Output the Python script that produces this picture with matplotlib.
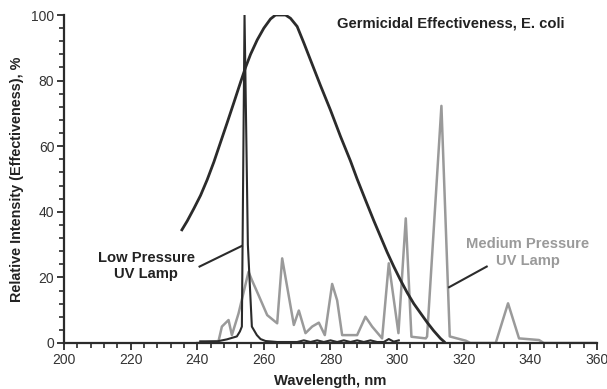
import matplotlib.pyplot as plt
from matplotlib.ticker import MultipleLocator

plt.rcParams['font.family'] = ['Liberation Sans', 'DejaVu Sans']

# germicidal effectiveness curve (E. coli)
germ_x = [235.4, 237, 239, 241, 243, 245, 247, 249, 251, 253, 254.5, 256, 258, 260, 262, 263.5,
          266.5, 268, 270, 272, 274, 277, 280, 283, 286, 288, 290.5, 293, 295, 297, 299, 301, 303,
          305, 307.1, 309, 311, 313, 314.1]
germ_y = [34.5, 37.2, 41, 45, 49.8, 55.2, 61.2, 67.2, 73.3, 79.5, 84, 88, 92.4, 96, 98.8, 100,
          100, 99, 96.5, 91.5, 86.3, 78.5, 71, 63, 55.5, 50, 43.6, 37.3, 32.5, 27.7, 23.3, 19.2, 15.4,
          12, 9, 6.3, 3.7, 1.4, 0.4]

# low pressure UV lamp spectrum
lp_x = [240.9, 246, 248.9, 251.9, 252.8, 253.4, 254.2, 255.2, 256.4, 257.9, 259, 260.5, 264, 270,
        272, 274, 276, 278, 280, 282, 284, 286, 288, 290, 292, 294, 296, 297.5, 299, 300.5]
lp_y = [0.5, 0.5, 1.1, 2, 3.5, 5, 100, 30, 5, 2.4, 1.2, 0.6, 0.3, 0.3,
        0.8, 0.3, 0.8, 0.3, 0.8, 0.3, 0.8, 0.3, 0.8, 0.3, 0.8, 0.3, 0.3, 1.2, 0.4, 0.8]

# medium pressure UV lamp spectrum
mp_x = [240, 246.4, 247.4, 249.4, 250.4, 252.4, 255.4, 256.4, 258.4, 261, 264, 265.5, 269, 270.5,
        272.5, 274.5, 276.5, 278.3, 280.5, 282, 283.5, 288, 290.5, 292.5, 295.5, 297.5, 300.4,
        302.6, 304.3, 308.6, 309, 313.3, 315.8, 317.6, 320.6, 322, 329.6, 333.3, 336.6, 342.6,
        344, 360]
mp_y = [0, 0.6, 5, 7, 2.4, 9, 21.7, 19.2, 14.6, 8.5, 6, 25.8, 5.5, 9.9,
        3, 5, 6.2, 2.4, 18, 13, 2.4, 2.4, 8, 5, 1.4, 24.3, 3,
        38, 1.9, 1.4, 2, 72.3, 2, 1.5, 0.7, 0, 0, 12.1, 1.4, 0.9,
        0, 0]

dark = '#2b2b2b'
grey = '#9a9a9a'

fig = plt.figure(figsize=(6.07, 3.89), dpi=100)
ax = fig.add_axes([0.1054, 0.1183, 0.8781, 0.8431])

ax.plot(mp_x, mp_y, color=grey, lw=1.8, zorder=2)
ax.plot(lp_x, lp_y, color=dark, lw=1.5, zorder=3)
ax.plot(germ_x, germ_y, color=dark, lw=2.0, zorder=4)

ax.set_xlim(200, 360)
ax.set_ylim(0, 100)
ax.xaxis.set_major_locator(MultipleLocator(20))
ax.xaxis.set_minor_locator(MultipleLocator(4))
ax.yaxis.set_major_locator(MultipleLocator(20))
ax.yaxis.set_minor_locator(MultipleLocator(4))
ax.tick_params(which='major', length=5, width=1.3, color=dark, labelsize=10, labelcolor='#333333', pad=2)
ax.tick_params(which='minor', length=3.5, width=1.2, color=dark)

for s in ['top', 'right']:
    ax.spines[s].set_visible(False)
for s in ['left', 'bottom']:
    ax.spines[s].set_linewidth(1.6)
    ax.spines[s].set_color(dark)

ax.set_xlabel('Wavelength, nm', fontsize=10.6, fontweight='bold', color='#222222', labelpad=5)
ax.set_ylabel('Relative Intensity (Effectiveness), %', fontsize=10.4, fontweight='bold',
              color='#222222', labelpad=5)

ax.text(316.1, 97.5, 'Germicidal Effectiveness, E. coli', fontsize=10.6, fontweight='bold',
        color='#222222', ha='center', va='center')

ax.text(224.7, 23.5, 'Low Pressure\nUV Lamp', fontsize=10.6, fontweight='bold', color='#222222',
        ha='center', va='center', linespacing=1.25)
ax.plot([240.7, 253.4], [23.3, 29.6], color=dark, lw=1.5)

ax.text(339.2, 27.6, 'Medium Pressure\nUV Lamp', fontsize=10.6, fontweight='bold', color=grey,
        ha='center', va='center', linespacing=1.25)
ax.plot([315.6, 326.9], [17, 23.3], color=dark, lw=1.5)

fig.savefig('out.png', dpi=100)
